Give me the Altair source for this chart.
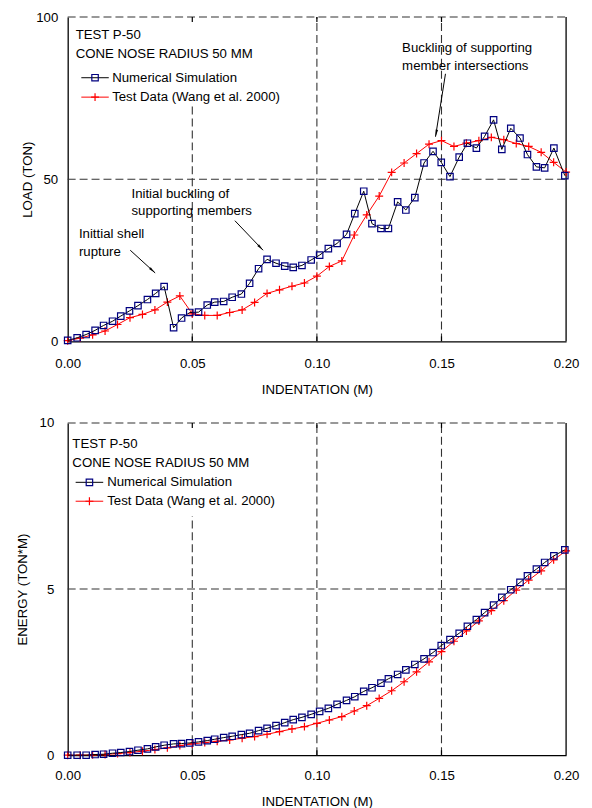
import altair as alt
import pandas as pd

FONT = "Liberation Sans"
FS = 13.3

# ---------------- data ----------------
sim_x = [0.0, 0.0038, 0.0074, 0.011, 0.0144, 0.018, 0.0213, 0.0248, 0.0282, 0.032,
         0.0353, 0.0387, 0.0425, 0.0457, 0.049, 0.0525, 0.056, 0.059, 0.0626, 0.066,
         0.0697, 0.073, 0.0766, 0.080, 0.0836, 0.0871, 0.0905, 0.094, 0.0977, 0.1011,
         0.1046, 0.1081, 0.1119, 0.1152, 0.1188, 0.1221, 0.1257, 0.1287, 0.1324, 0.1357,
         0.1393, 0.143, 0.1466, 0.1499, 0.1534, 0.1571, 0.1604, 0.164, 0.1673, 0.1709,
         0.1742, 0.1778, 0.1815, 0.1845, 0.1881, 0.1914, 0.1951, 0.1995]
sim_load = [0.3, 1.1, 2.1, 3.4, 4.9, 6.2, 7.8, 9.4, 11.0, 12.9,
            14.8, 16.9, 4.2, 7.2, 8.9, 9.0, 11.2, 12.1, 12.3, 13.6,
            14.6, 17.9, 22.4, 25.3, 24.1, 23.2, 22.8, 23.4, 25.1, 26.6,
            28.6, 30.2, 33.0, 39.4, 46.3, 36.3, 34.8, 34.8, 43.0, 40.5,
            44.3, 55.0, 58.6, 55.2, 50.8, 56.8, 61.1, 59.6, 63.2, 68.3,
            59.2, 65.7, 62.7, 57.6, 53.8, 53.5, 59.6, 51.1]
sim_energy = [0.0, 0.0, 0.0, 0.02, 0.03, 0.06, 0.08, 0.11, 0.15, 0.19,
              0.25, 0.30, 0.34, 0.35, 0.37, 0.40, 0.44, 0.48, 0.53, 0.57,
              0.62, 0.66, 0.74, 0.81, 0.89, 0.98, 1.07, 1.14, 1.23, 1.32,
              1.41, 1.53, 1.65, 1.76, 1.92, 2.03, 2.17, 2.30, 2.43, 2.57,
              2.73, 2.90, 3.09, 3.30, 3.48, 3.67, 3.88, 4.08, 4.29, 4.52,
              4.75, 4.98, 5.20, 5.40, 5.60, 5.80, 6.00, 6.18]

test_x = [0.000, 0.005, 0.010, 0.015, 0.020, 0.025, 0.030, 0.035, 0.040, 0.045,
          0.050, 0.055, 0.060, 0.065, 0.070, 0.075, 0.080, 0.085, 0.090, 0.095,
          0.100, 0.105, 0.110, 0.115, 0.120, 0.125, 0.130, 0.135, 0.140, 0.145,
          0.150, 0.155, 0.160, 0.165, 0.170, 0.175, 0.180, 0.185, 0.190, 0.195,
          0.200]
test_load = [0.2, 1.0, 2.0, 3.2, 5.2, 7.3, 8.3, 9.7, 12.1, 14.0,
             8.5, 8.0, 8.0, 8.9, 9.7, 12.0, 14.8, 15.9, 17.0, 18.0,
             20.1, 23.1, 24.8, 32.8, 39.0, 44.8, 52.1, 55.0, 57.9, 60.8,
             61.9, 60.1, 61.1, 61.9, 62.9, 62.2, 61.0, 60.1, 58.3, 55.2,
             52.2]
test_energy = [0.0, 0.0, 0.01, 0.02, 0.05, 0.08, 0.12, 0.17, 0.22, 0.29,
               0.34, 0.38, 0.42, 0.46, 0.51, 0.56, 0.63, 0.71, 0.79, 0.86,
               0.96, 1.06, 1.16, 1.33, 1.49, 1.71, 1.94, 2.21, 2.51, 2.81,
               3.12, 3.43, 3.74, 4.04, 4.35, 4.65, 4.97, 5.27, 5.55, 5.88,
               6.15]

x_ticks = [0.0, 0.05, 0.10, 0.15, 0.20]
series_names = ["Numerical Simulation", "Test Data (Wang et al. 2000)"]
header_lines = ["TEST P-50", "CONE NOSE RADIUS 50 MM"]

# annotations of the load plot (data units)
ann_text = ["Inittial shell", "rupture", "Initial buckling of", "supporting members",
            "Buckling of supporting", "member intersections"]
ann_tx = [0.0045, 0.0045, 0.0256, 0.0256, 0.1342, 0.1342]
ann_ty = [33.2, 27.7, 45.5, 40.2, 90.3, 85.0]
arrow_x0 = [0.0251, 0.0671, 0.1516]
arrow_y0 = [28.1, 37.2, 82.5]
arrow_x1 = [0.0351, 0.0784, 0.1476]
arrow_y1 = [21.1, 28.1, 63.1]
arrow_ang = [132, 136, 191]

sim = pd.DataFrame({"x": sim_x, "load": sim_load, "energy": sim_energy})
test = pd.DataFrame({"x": test_x, "load": test_load, "energy": test_energy})
one = pd.DataFrame({"a": [0]})

PLUS = "M-1,0H1M0,-1V1"
HEAD = "M0,0L0.45,2.6L-0.45,2.6Z"
GRID = "#333333"


def panel(ycol, ymax, ytitle, h, g05, lab_pad_x, lab_pad_y, tit_pad_y, leg, annotate):
    xs = alt.Scale(domain=[0, 0.2], nice=False, zero=False)
    ys = alt.Scale(domain=[0, ymax], nice=False)
    xaxis = alt.Axis(values=x_ticks, format=".2f", title="INDENTATION (M)", ticks=False,
                     grid=False, labelPadding=lab_pad_x, titlePadding=13, labelFlush=False,
                     labelOverlap=False, domainColor="black", domainWidth=1.3)
    yaxis = alt.Axis(values=[0, ymax / 2, ymax], format="d", title=ytitle, ticks=False,
                     grid=False, labelPadding=lab_pad_y, titlePadding=tit_pad_y,
                     labelFlush=False, labelOverlap=False, domainColor="black",
                     domainWidth=1.3)

    def X(f):
        return alt.X(f, type="quantitative", scale=xs, axis=xaxis)

    def Y(f):
        return alt.Y(f, type="quantitative", scale=ys, axis=yaxis)

    vg = pd.DataFrame({"x": [0.05, 0.10, 0.15], "y0": [0, 0, 0], "y1": [g05, ymax, ymax]})
    hg = pd.DataFrame({"y": [ymax / 2, ymax], "x0": [0, 0], "x1": [0.2, 0.2]})
    rb = pd.DataFrame({"x": [0.2], "y0": [0], "y1": [ymax]})
    tk = pd.DataFrame({"x": [0.05, 0.10, 0.15]})

    layers = [
        alt.Chart(vg).mark_rule(strokeDash=[8, 4], color=GRID, strokeWidth=1.1)
        .encode(x=X("x"), y=Y("y0"), y2="y1"),
        alt.Chart(hg).mark_rule(strokeDash=[8, 4], color=GRID, strokeWidth=1.1)
        .encode(y=Y("y"), x=X("x0"), x2="x1"),
        alt.Chart(rb).mark_rule(color="black", strokeWidth=1.3)
        .encode(x=X("x"), y=Y("y0"), y2="y1"),
        alt.Chart(tk).mark_rule(color="black", strokeWidth=1.2)
        .encode(x=X("x"), y=alt.value(h), y2=alt.value(h - 5)),
        alt.Chart(tk).mark_rule(color="black", strokeWidth=1.2)
        .encode(x=X("x"), y=alt.value(0), y2=alt.value(5)),
        alt.Chart(test).mark_line(color="red", strokeWidth=1)
        .encode(x=X("x"), y=Y(ycol)),
        alt.Chart(test).mark_point(shape=PLUS, size=64, filled=False, color="red",
                                   strokeWidth=1.2, opacity=1)
        .encode(x=X("x"), y=Y(ycol)),
        alt.Chart(sim).mark_line(color="black", strokeWidth=1)
        .encode(x=X("x"), y=Y(ycol)),
        alt.Chart(sim).mark_point(shape="square", size=42, filled=False, color="#000080",
                                  strokeWidth=1.2, opacity=1)
        .encode(x=X("x"), y=Y(ycol)),
    ]

    if annotate:
        at = pd.DataFrame({"x": ann_tx, "y": ann_ty, "t": ann_text})
        ar = pd.DataFrame({"x0": arrow_x0, "y0": arrow_y0, "x1": arrow_x1,
                           "y1": arrow_y1, "ang": arrow_ang})
        layers += [
            alt.Chart(at).mark_text(font=FONT, fontSize=FS, align="left",
                                    baseline="middle", color="black")
            .encode(x=X("x"), y=Y("y"), text="t:N"),
            alt.Chart(ar).mark_rule(color="black", strokeWidth=1)
            .encode(x=X("x0"), y=Y("y0"), x2="x1", y2="y1"),
            alt.Chart(ar).mark_point(shape=HEAD, size=30, filled=True, color="black",
                                     opacity=1, strokeWidth=0)
            .encode(x=X("x1"), y=Y("y1"), angle=alt.Angle("ang:Q", scale=None)),
        ]

    # legend block
    tx, ty1, ty2, r1, r2, lx0, lx1, ltx = leg
    lc = (lx0 + lx1) / 2
    txt = dict(font=FONT, fontSize=FS, align="left", baseline="middle", color="black")
    layers += [
        alt.Chart(one).mark_text(text=header_lines[0], **txt)
        .encode(x=alt.value(tx), y=alt.value(ty1)),
        alt.Chart(one).mark_text(text=header_lines[1], **txt)
        .encode(x=alt.value(tx), y=alt.value(ty2)),
        alt.Chart(one).mark_rule(color="black", strokeWidth=1)
        .encode(x=alt.value(lx0), x2=alt.value(lx1), y=alt.value(r1)),
        alt.Chart(one).mark_point(shape="square", size=42, filled=False, color="#000080",
                                  strokeWidth=1.2, opacity=1)
        .encode(x=alt.value(lc), y=alt.value(r1)),
        alt.Chart(one).mark_text(text=series_names[0], **txt)
        .encode(x=alt.value(ltx), y=alt.value(r1)),
        alt.Chart(one).mark_rule(color="red", strokeWidth=1)
        .encode(x=alt.value(lx0), x2=alt.value(lx1), y=alt.value(r2)),
        alt.Chart(one).mark_point(shape=PLUS, size=64, filled=False, color="red",
                                  strokeWidth=1.2, opacity=1)
        .encode(x=alt.value(lc), y=alt.value(r2)),
        alt.Chart(one).mark_text(text=series_names[1], **txt)
        .encode(x=alt.value(ltx), y=alt.value(r2)),
    ]

    return alt.layer(*layers).properties(width=501, height=h)


top = panel("load", 100, "LOAD (TON)", 326, 73.3, 15, 10, 1,
            (8, 18.3, 36.7, 61, 80.5, 13.7, 41.3, 44.7), True)
bottom = panel("energy", 10, "ENERGY (TON*M)", 334, 7.2, 13.5, 14, 10,
               (4.7, 21.3, 40.3, 59.7, 78.7, 8, 35.7, 39.7), False)

chart = (
    alt.vconcat(top, bottom, spacing=82, bounds="flush")
    .properties(padding={"left": 7, "top": 0, "right": 5, "bottom": 0})
    .configure_view(stroke=None)
    .configure_axis(labelFont=FONT, titleFont=FONT, labelFontSize=FS, titleFontSize=FS,
                    labelColor="black", titleColor="black", titleFontWeight="normal")
)

chart.save("out.html", embed_options={"renderer": "svg", "actions": False})
